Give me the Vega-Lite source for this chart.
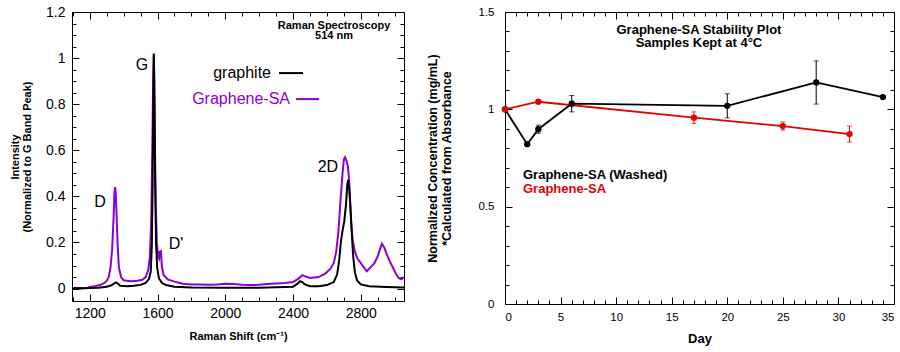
{
"$schema":"https://vega.github.io/schema/vega-lite/v6.json",
"padding":{"left":9,"top":4,"right":5,"bottom":0},
"spacing":16,
"config":{"font":"Liberation Sans","view":{"stroke":"black","strokeWidth":1},"axis":{"grid":false,"domain":false,"tickColor":"black","tickWidth":1,"labelColor":"black","titleColor":"black","labelFont":"Liberation Sans","titleFont":"Liberation Sans"},"text":{"font":"Liberation Sans"}},
"datasets":{
"graphite":[{"shift":1095,"intensity":0.0},{"shift":1150,"intensity":0.001},{"shift":1200,"intensity":0.002},{"shift":1250,"intensity":0.004},{"shift":1300,"intensity":0.008},{"shift":1330,"intensity":0.015},{"shift":1345,"intensity":0.023},{"shift":1355,"intensity":0.027},{"shift":1365,"intensity":0.022},{"shift":1380,"intensity":0.012},{"shift":1420,"intensity":0.01},{"shift":1460,"intensity":0.012},{"shift":1500,"intensity":0.016},{"shift":1530,"intensity":0.024},{"shift":1550,"intensity":0.042},{"shift":1560,"intensity":0.075},{"shift":1566,"intensity":0.18},{"shift":1571,"intensity":0.45},{"shift":1575,"intensity":0.8},{"shift":1578,"intensity":1.02},{"shift":1582,"intensity":0.8},{"shift":1586,"intensity":0.45},{"shift":1591,"intensity":0.2},{"shift":1598,"intensity":0.09},{"shift":1608,"intensity":0.045},{"shift":1625,"intensity":0.025},{"shift":1650,"intensity":0.015},{"shift":1700,"intensity":0.008},{"shift":1800,"intensity":0.005},{"shift":2000,"intensity":0.004},{"shift":2200,"intensity":0.004},{"shift":2400,"intensity":0.008},{"shift":2425,"intensity":0.02},{"shift":2440,"intensity":0.032},{"shift":2455,"intensity":0.028},{"shift":2470,"intensity":0.018},{"shift":2500,"intensity":0.01},{"shift":2550,"intensity":0.01},{"shift":2600,"intensity":0.015},{"shift":2640,"intensity":0.028},{"shift":2660,"intensity":0.06},{"shift":2672,"intensity":0.12},{"shift":2682,"intensity":0.2},{"shift":2692,"intensity":0.25},{"shift":2702,"intensity":0.29},{"shift":2712,"intensity":0.36},{"shift":2720,"intensity":0.45},{"shift":2725,"intensity":0.472},{"shift":2731,"intensity":0.44},{"shift":2738,"intensity":0.36},{"shift":2746,"intensity":0.25},{"shift":2755,"intensity":0.14},{"shift":2765,"intensity":0.07},{"shift":2778,"intensity":0.035},{"shift":2800,"intensity":0.018},{"shift":2850,"intensity":0.01},{"shift":2950,"intensity":0.007},{"shift":3055,"intensity":0.005}],
"graphene":[{"shift":1095,"intensity":0.001},{"shift":1120,"intensity":0.003},{"shift":1150,"intensity":0.0},{"shift":1180,"intensity":0.002},{"shift":1200,"intensity":0.007},{"shift":1230,"intensity":0.01},{"shift":1260,"intensity":0.015},{"shift":1285,"intensity":0.024},{"shift":1300,"intensity":0.033},{"shift":1312,"intensity":0.05},{"shift":1322,"intensity":0.09},{"shift":1332,"intensity":0.17},{"shift":1340,"intensity":0.3},{"shift":1346,"intensity":0.42},{"shift":1350,"intensity":0.44},{"shift":1354,"intensity":0.4},{"shift":1359,"intensity":0.3},{"shift":1365,"intensity":0.18},{"shift":1372,"intensity":0.09},{"shift":1385,"intensity":0.05},{"shift":1400,"intensity":0.036},{"shift":1440,"intensity":0.032},{"shift":1480,"intensity":0.034},{"shift":1510,"intensity":0.038},{"shift":1530,"intensity":0.05},{"shift":1545,"intensity":0.08},{"shift":1555,"intensity":0.14},{"shift":1563,"intensity":0.3},{"shift":1569,"intensity":0.6},{"shift":1574,"intensity":0.9},{"shift":1578,"intensity":1.015},{"shift":1581,"intensity":0.9},{"shift":1585,"intensity":0.6},{"shift":1590,"intensity":0.35},{"shift":1596,"intensity":0.2},{"shift":1603,"intensity":0.14},{"shift":1609,"intensity":0.13},{"shift":1613,"intensity":0.16},{"shift":1620,"intensity":0.162},{"shift":1625,"intensity":0.1},{"shift":1635,"intensity":0.06},{"shift":1660,"intensity":0.04},{"shift":1700,"intensity":0.03},{"shift":1750,"intensity":0.021},{"shift":1800,"intensity":0.018},{"shift":1850,"intensity":0.018},{"shift":1900,"intensity":0.016},{"shift":1950,"intensity":0.018},{"shift":2000,"intensity":0.021},{"shift":2050,"intensity":0.02},{"shift":2100,"intensity":0.016},{"shift":2150,"intensity":0.015},{"shift":2200,"intensity":0.016},{"shift":2250,"intensity":0.02},{"shift":2300,"intensity":0.022},{"shift":2350,"intensity":0.024},{"shift":2400,"intensity":0.028},{"shift":2430,"intensity":0.042},{"shift":2455,"intensity":0.058},{"shift":2475,"intensity":0.052},{"shift":2500,"intensity":0.046},{"shift":2550,"intensity":0.05},{"shift":2590,"intensity":0.065},{"shift":2620,"intensity":0.085},{"shift":2640,"intensity":0.11},{"shift":2655,"intensity":0.16},{"shift":2668,"intensity":0.25},{"shift":2680,"intensity":0.38},{"shift":2692,"intensity":0.5},{"shift":2700,"intensity":0.56},{"shift":2707,"intensity":0.57},{"shift":2715,"intensity":0.555},{"shift":2724,"intensity":0.53},{"shift":2730,"intensity":0.48},{"shift":2737,"intensity":0.38},{"shift":2744,"intensity":0.28},{"shift":2752,"intensity":0.21},{"shift":2765,"intensity":0.16},{"shift":2780,"intensity":0.13},{"shift":2800,"intensity":0.11},{"shift":2820,"intensity":0.09},{"shift":2835,"intensity":0.075},{"shift":2855,"intensity":0.09},{"shift":2880,"intensity":0.11},{"shift":2900,"intensity":0.14},{"shift":2913,"intensity":0.17},{"shift":2925,"intensity":0.195},{"shift":2940,"intensity":0.175},{"shift":2955,"intensity":0.145},{"shift":2970,"intensity":0.12},{"shift":2990,"intensity":0.09},{"shift":3010,"intensity":0.06},{"shift":3025,"intensity":0.045},{"shift":3040,"intensity":0.04},{"shift":3055,"intensity":0.05}],
"stability":[{"series":"Graphene-SA (Washed)","day":0,"value":1.0,"err":0},{"series":"Graphene-SA (Washed)","day":2,"value":0.821,"err":0},{"series":"Graphene-SA (Washed)","day":3,"value":0.898,"err":0.021},{"series":"Graphene-SA (Washed)","day":6,"value":1.029,"err":0.042},{"series":"Graphene-SA (Washed)","day":20,"value":1.018,"err":0.062},{"series":"Graphene-SA (Washed)","day":28,"value":1.138,"err":0.111},{"series":"Graphene-SA (Washed)","day":34,"value":1.063,"err":0},{"series":"Graphene-SA","day":0,"value":1.0,"err":0},{"series":"Graphene-SA","day":3,"value":1.039,"err":0},{"series":"Graphene-SA","day":17,"value":0.957,"err":0.03},{"series":"Graphene-SA","day":25,"value":0.914,"err":0.021},{"series":"Graphene-SA","day":31,"value":0.873,"err":0.041}]
},
"hconcat":[
{
"width":332,"height":289,
"resolve":{"axis":{"x":"independent","y":"independent"}},
"layer":[
{"data":{"name":"graphene"},"mark":{"type":"line","color":"#8b00d2","strokeWidth":2},
 "encoding":{
  "x":{"field":"shift","type":"quantitative","scale":{"domain":[1095,3055],"nice":false,"zero":false},"axis":{"orient":"bottom","values":[1200,1600,2000,2400,2800],"format":"d","ticks":false,"tickSize":0,"labelFontSize":14,"labelPadding":5,"title":"Raman Shift (cm⁻¹)","titleFontSize":11,"titleFontWeight":"bold","titlePadding":10}},
  "y":{"field":"intensity","type":"quantitative","scale":{"domain":[-0.054,1.2],"nice":false,"zero":false},"axis":{"orient":"left","values":[0,0.2,0.4,0.6,0.8,1,1.2],"format":"~g","ticks":false,"tickSize":0,"labelFontSize":14,"labelPadding":7,"title":["Intensity","(Normalized to G Band Peak)"],"titleFontSize":11,"titleFontWeight":"bold","titlePadding":13,"titleLineHeight":12}}}},
{"data":{"name":"graphite"},"mark":{"type":"line","color":"black","strokeWidth":2},
 "encoding":{
  "x":{"field":"shift","type":"quantitative","axis":{"orient":"bottom","values":[1200,1600,2000,2400,2800],"offset":-7,"tickSize":7,"labels":false,"title":null}},
  "y":{"field":"intensity","type":"quantitative","axis":{"orient":"left","values":[0,0.2,0.4,0.6,0.8,1,1.2],"offset":-7,"tickSize":7,"labels":false,"title":null}}}},
{"data":{"values":[{}]},"mark":{"type":"text","text":"D","fontSize":16,"align":"center","baseline":"middle"},
 "encoding":{
  "x":{"datum":1260,"type":"quantitative","axis":{"orient":"top","values":[1200,1600,2000,2400,2800],"offset":-7,"tickSize":7,"labels":false,"title":null}},
  "y":{"datum":0.375,"type":"quantitative","axis":{"orient":"right","values":[0,0.2,0.4,0.6,0.8,1,1.2],"offset":-7,"tickSize":7,"labels":false,"title":null}}}},
{"data":{"values":[{}]},"mark":{"type":"text","text":"G","fontSize":16,"align":"center","baseline":"middle"},
 "encoding":{
  "x":{"datum":1508,"type":"quantitative","axis":{"orient":"bottom","values":[1100,1300,1400,1500,1700,1800,1900,2100,2200,2300,2500,2600,2700,2900,3000],"offset":-4,"tickSize":4,"labels":false,"title":null}},
  "y":{"datum":0.97,"type":"quantitative","axis":{"orient":"left","values":[0.05,0.1,0.15,0.25,0.3,0.35,0.45,0.5,0.55,0.65,0.7,0.75,0.85,0.9,0.95,1.05,1.1,1.15],"offset":-4,"tickSize":4,"labels":false,"title":null}}}},
{"data":{"values":[{}]},"mark":{"type":"text","text":"D'","fontSize":16,"align":"center","baseline":"middle"},
 "encoding":{
  "x":{"datum":1709,"type":"quantitative","axis":{"orient":"top","values":[1100,1300,1400,1500,1700,1800,1900,2100,2200,2300,2500,2600,2700,2900,3000],"offset":-4,"tickSize":4,"labels":false,"title":null}},
  "y":{"datum":0.193,"type":"quantitative","axis":{"orient":"right","values":[0.05,0.1,0.15,0.25,0.3,0.35,0.45,0.5,0.55,0.65,0.7,0.75,0.85,0.9,0.95,1.05,1.1,1.15],"offset":-4,"tickSize":4,"labels":false,"title":null}}}},
{"data":{"values":[{}]},"mark":{"type":"text","text":"2D","fontSize":16,"align":"center","baseline":"middle"},
 "encoding":{"x":{"datum":2606,"type":"quantitative","axis":null},"y":{"datum":0.527,"type":"quantitative","axis":null}}},
{"data":{"values":[{}]},"mark":{"type":"text","text":"graphite","fontSize":16,"align":"right","baseline":"middle"},
 "encoding":{"x":{"datum":2270,"type":"quantitative","axis":null},"y":{"datum":0.935,"type":"quantitative","axis":null}}},
{"data":{"values":[{}]},"mark":{"type":"rule","color":"black","strokeWidth":2},
 "encoding":{"x":{"datum":2317,"type":"quantitative","axis":null},"x2":{"datum":2459},"y":{"datum":0.935,"type":"quantitative","axis":null}}},
{"data":{"values":[{}]},"mark":{"type":"text","text":"Graphene-SA","fontSize":16,"align":"right","baseline":"middle","color":"#8b00d2"},
 "encoding":{"x":{"datum":2382,"type":"quantitative","axis":null},"y":{"datum":0.822,"type":"quantitative","axis":null}}},
{"data":{"values":[{}]},"mark":{"type":"rule","color":"#8b00d2","strokeWidth":2},
 "encoding":{"x":{"datum":2417,"type":"quantitative","axis":null},"x2":{"datum":2553},"y":{"datum":0.822,"type":"quantitative","axis":null}}},
{"data":{"values":[{}]},"mark":{"type":"text","text":"Raman Spectroscopy","fontSize":11,"fontWeight":"bold","align":"center","baseline":"middle"},
 "encoding":{"x":{"datum":2642,"type":"quantitative","axis":null},"y":{"datum":1.139,"type":"quantitative","axis":null}}},
{"data":{"values":[{}]},"mark":{"type":"text","text":"514 nm","fontSize":11,"fontWeight":"bold","align":"center","baseline":"middle"},
 "encoding":{"x":{"datum":2642,"type":"quantitative","axis":null},"y":{"datum":1.094,"type":"quantitative","axis":null}}}
]
},
{
"width":389,"height":292,
"resolve":{"axis":{"x":"independent","y":"independent"}},
"layer":[
{"data":{"name":"stability"},"mark":{"type":"line","strokeWidth":1.8},
 "encoding":{
  "x":{"field":"day","type":"quantitative","scale":{"domain":[0,35],"nice":false,"zero":false},"axis":{"orient":"bottom","values":[0,5,10,15,20,25,30,35],"format":"d","ticks":false,"tickSize":0,"labelFontSize":11.5,"labelPadding":7,"title":"Day","titleFontSize":13,"titleFontWeight":"bold","titlePadding":10}},
  "y":{"field":"value","type":"quantitative","scale":{"domain":[0,1.5],"nice":false,"zero":false},"axis":{"orient":"left","values":[0,0.5,1,1.5],"format":"~g","ticks":false,"tickSize":0,"labelFontSize":11.5,"labelPadding":11,"title":["Normalized Concentration (mg/mL)","*Calculated from Absorbance"],"titleFontSize":12.5,"titleFontWeight":"bold","titlePadding":25,"titleLineHeight":14}},
  "color":{"field":"series","type":"nominal","scale":{"domain":["Graphene-SA (Washed)","Graphene-SA"],"range":["black","#e60000"]},"legend":null}}},
{"data":{"name":"stability"},"transform":[{"filter":"datum.err > 0"}],"mark":{"type":"errorbar","ticks":true,"thickness":1},
 "encoding":{
  "x":{"field":"day","type":"quantitative","axis":null},
  "y":{"field":"value","type":"quantitative","axis":null},
  "yError":{"field":"err"},
  "color":{"field":"series","type":"nominal","legend":null}}},
{"data":{"name":"stability"},"mark":{"type":"point","filled":true,"opacity":1,"size":40},
 "encoding":{
  "x":{"field":"day","type":"quantitative","axis":{"orient":"bottom","values":[0,5,10,15,20,25,30,35],"offset":-7,"tickSize":7,"labels":false,"title":null}},
  "y":{"field":"value","type":"quantitative","axis":{"orient":"left","values":[0,0.5,1,1.5],"offset":-7,"tickSize":7,"labels":false,"title":null}},
  "color":{"field":"series","type":"nominal","legend":null}}},
{"data":{"values":[{}]},"mark":{"type":"text","text":"Graphene-SA Stability Plot","fontSize":13,"fontWeight":"bold","align":"center","baseline":"middle"},
 "encoding":{
  "x":{"datum":17.45,"type":"quantitative","axis":{"orient":"top","values":[0,5,10,15,20,25,30,35],"offset":-7,"tickSize":7,"labels":false,"title":null}},
  "y":{"datum":1.41,"type":"quantitative","axis":{"orient":"right","values":[0,0.5,1,1.5],"offset":-7,"tickSize":7,"labels":false,"title":null}}}},
{"data":{"values":[{}]},"mark":{"type":"text","text":"Samples Kept at 4°C","fontSize":13,"fontWeight":"bold","align":"center","baseline":"middle"},
 "encoding":{
  "x":{"datum":17.45,"type":"quantitative","axis":{"orient":"bottom","values":[1,2,3,4,6,7,8,9,11,12,13,14,16,17,18,19,21,22,23,24,26,27,28,29,31,32,33,34],"offset":-4,"tickSize":4,"labels":false,"title":null}},
  "y":{"datum":1.34,"type":"quantitative","axis":{"orient":"left","values":[0.1,0.2,0.3,0.4,0.6,0.7,0.8,0.9,1.1,1.2,1.3,1.4],"offset":-4,"tickSize":4,"labels":false,"title":null}}}},
{"data":{"values":[{}]},"mark":{"type":"text","text":"Graphene-SA (Washed)","fontSize":13,"fontWeight":"bold","align":"left","baseline":"middle","color":"black"},
 "encoding":{
  "x":{"datum":1.62,"type":"quantitative","axis":{"orient":"top","values":[1,2,3,4,6,7,8,9,11,12,13,14,16,17,18,19,21,22,23,24,26,27,28,29,31,32,33,34],"offset":-4,"tickSize":4,"labels":false,"title":null}},
  "y":{"datum":0.663,"type":"quantitative","axis":{"orient":"right","values":[0.1,0.2,0.3,0.4,0.6,0.7,0.8,0.9,1.1,1.2,1.3,1.4],"offset":-4,"tickSize":4,"labels":false,"title":null}}}},
{"data":{"values":[{}]},"mark":{"type":"text","text":"Graphene-SA","fontSize":13,"fontWeight":"bold","align":"left","baseline":"middle","color":"#e60000"},
 "encoding":{"x":{"datum":1.62,"type":"quantitative","axis":null},"y":{"datum":0.593,"type":"quantitative","axis":null}}}
]
}
]
}
